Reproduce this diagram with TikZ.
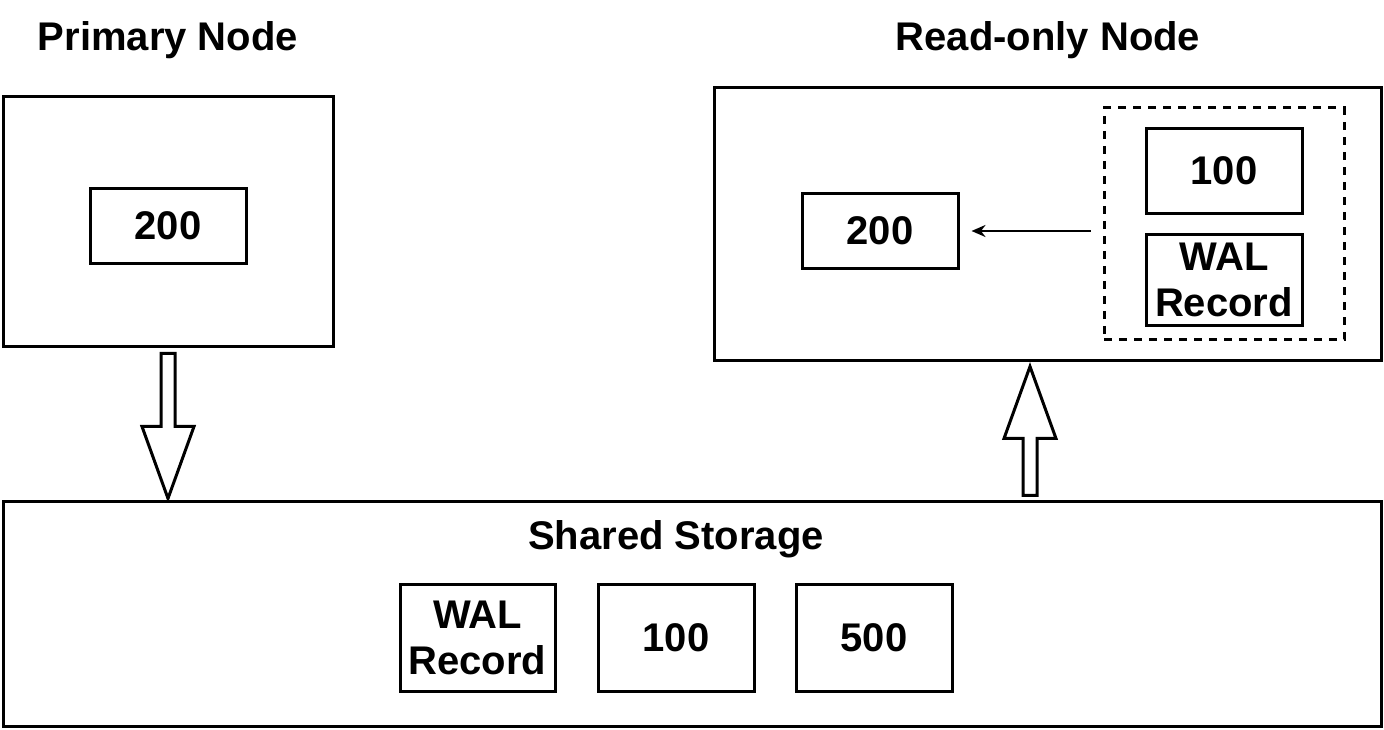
\documentclass[tikz,border=0pt]{standalone}
\usepackage{fontspec}
\usetikzlibrary{arrows.meta,calc}
\newfontfamily\walFace{Liberation Sans}
\definecolor{walInk}{HTML}{000000}
\newcommand{\WALType}{\walFace\bfseries\fontsize{40}{46}\selectfont}
\tikzset{wal/base/.style={x=1pt,y=1pt,line cap=butt,line join=miter,
  every node/.style={font=\WALType,inner sep=0pt,text=walInk}},
  wal/frame/.style={draw=walInk,line width=3pt},
  wal/page/.style={draw=walInk,line width=3pt,minimum width=156pt,
    minimum height=75pt,align=center},
  wal/group/.style={draw=walInk,line width=3pt,dash pattern=on 8pt off 7pt},
  wal/link/.style={-{Stealth[length=14pt,width=12pt]},draw=walInk,line width=2.5pt},
  wal/block/.style={draw=walInk,fill=white,line width=3pt}}

\begin{document}
\begin{tikzpicture}[wal/base]
  \useasboundingbox (0,0) rectangle (1384,730);
  % Three machines: writer, reader, and the storage they share.
  \node[wal/frame,minimum width=330pt,minimum height=250pt] (primary) at (168,508) {};
  \node (primaryTitle) at (168,690) {Primary Node};
  \node[wal/page] (p200) at (168,504) {200};
  \node[wal/frame,minimum width=667pt,minimum height=273pt] (reader) at (1047.5,505.5) {};
  \node (readerTitle) at (1048,690) {Read-only Node};
  \node[wal/page] (r200) at (880,499) {200};
  \node[wal/group,minimum width=240pt,minimum height=232pt] (replay) at (1224,506) {};
  \node[wal/page,minimum height=85pt] (r100) at (1224,559) {100};
  \node[wal/page,minimum height=91pt] (rwal) at (1224,450) {WAL\\Record};
  \node[wal/frame,minimum width=1378pt,minimum height=225pt] (storage) at (692,115.5) {};
  \node (storageTitle) at (676,191) {Shared Storage};
  \node[wal/page,minimum width=155pt,minimum height=107pt] (swal) at (477.5,92) {WAL\\Record};
  \node[wal/page,minimum height=107pt] (s100) at (676,92) {100};
  \node[wal/page,minimum height=107pt] (s500) at (874,92) {500};
  \draw[wal/link,shorten <=12pt,shorten >=12pt] (replay.west |- r200.east) -- (r200.east);
  % Hollow block arrows: write down, read up.
  \coordinate (dnTop) at ($(primary.south)+(0,-5)$);
  \coordinate (dnTip) at ($(primary.south |- storage.north)+(0,2)$);
  \draw[wal/block] ($(dnTop)+(-7,0)$) -- ($(dnTip)+(-7,72)$) -- ($(dnTip)+(-26,72)$)
    -- (dnTip) -- ($(dnTip)+(26,72)$) -- ($(dnTip)+(7,72)$) -- ($(dnTop)+(7,0)$) -- cycle;
  \coordinate (upTail) at ($(1030,0 |- storage.north)+(0,5)$);
  \coordinate (upTip) at ($(upTail |- reader.south)+(0,-4)$);
  \draw[wal/block] ($(upTail)+(-7,0)$) -- ($(upTip)+(-7,-72)$) -- ($(upTip)+(-26,-72)$)
    -- (upTip) -- ($(upTip)+(26,-72)$) -- ($(upTip)+(7,-72)$) -- ($(upTail)+(7,0)$) -- cycle;
\end{tikzpicture}
\end{document}
